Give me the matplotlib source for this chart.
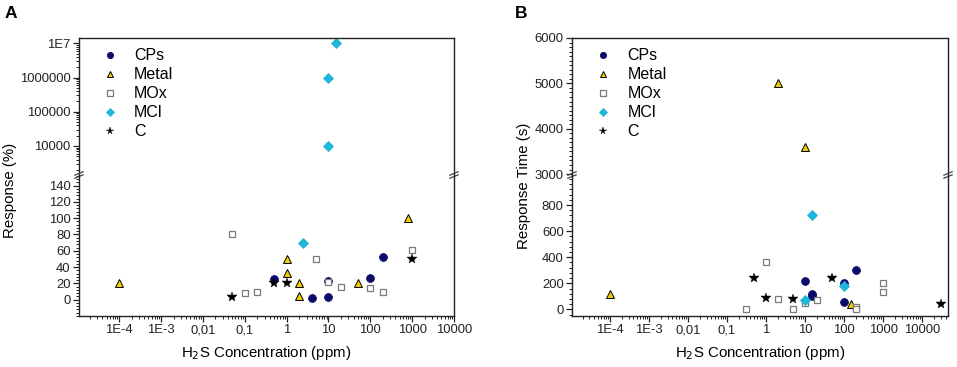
import numpy as np
import matplotlib
matplotlib.use("Agg")
import matplotlib.pyplot as plt
from matplotlib.ticker import FixedLocator, LogLocator, MultipleLocator, NullFormatter

plt.rcParams["font.family"] = ["Liberation Sans", "DejaVu Sans"]

# Panel A: response (%)
cps_a_x = [0.5, 4, 10, 10, 100, 200]
cps_a_y = [25, 2, 3, 23, 27, 52]
metal_a_x = [1e-4, 1, 1, 2, 2, 50, 800]
metal_a_y = [20, 50, 33, 20, 5, 20, 100]
mox_a_x = [0.05, 0.1, 0.2, 5, 10, 20, 100, 200, 1000]
mox_a_y = [80, 8, 10, 50, 22, 15, 14, 9, 61]
mcl_a_x = [2.5, 10, 10, 15]
mcl_a_y = [70, 1e4, 1e6, 1e7]
c_a_x = [0.05, 0.5, 1, 1000]
c_a_y = [3, 20, 20, 50]

# Panel B: response time (s)
cps_b_x = [10, 15, 15, 100, 100, 200]
cps_b_y = [220, 120, 100, 200, 60, 300]
metal_b_x = [1e-4, 2, 10, 150]
metal_b_y = [120, 5000, 3600, 45]
mox_b_x = [0.3, 1, 2, 5, 10, 20, 200, 200, 1000, 1000]
mox_b_y = [5, 360, 82, 5, 50, 70, 20, 5, 200, 135]
mcl_b_x = [10, 15, 100]
mcl_b_y = [70, 720, 180]
c_b_x = [0.5, 1, 5, 50, 30000]
c_b_y = [240, 90, 80, 240, 40]

x_ticks = [1e-4, 1e-3, 1e-2, 1e-1, 1, 10, 100, 1000, 10000]
x_labels = ["1E-4", "1E-3", "0,01", "0,1", "1", "10", "100", "1000", "10000"]
a_upper_ticks = [1e4, 1e5, 1e6, 1e7]
a_upper_labels = ["10000", "100000", "1000000", "1E7"]
a_lower_ticks = [0, 20, 40, 60, 80, 100, 120, 140]
b_upper_ticks = [3000, 4000, 5000, 6000]
b_lower_ticks = [0, 200, 400, 600, 800]

styles = {
    "CPs": dict(marker="o", mfc="#0b0b6b", mec="#0b0b6b", ms=5.6, mew=0.6),
    "Metal": dict(marker="^", mfc="#f2cd00", mec="black", ms=6.0, mew=0.7),
    "MOx": dict(marker="s", mfc="white", mec="#7a7a7a", ms=4.8, mew=0.9),
    "MCl": dict(marker="D", mfc="#1fb8dc", mec="#1fb8dc", ms=4.6, mew=0.6),
    "C": dict(marker="*", mfc="black", mec="black", ms=7.0, mew=0.3),
}

W, H = 957, 367
fig = plt.figure(figsize=(W / 100, H / 100), dpi=100)


def fx(px):
    return px / W


def fy(py):
    return 1 - py / H


def break_marks(ax, y):
    # two short slanted strokes across left and right spines
    kw = dict(transform=ax.transAxes, color="#444444", lw=0.9, clip_on=False)
    for xs in (0.0, 1.0):
        for off in (-0.011, 0.011):
            ax.plot([xs - 0.011, xs + 0.011], [y + off - 0.012, y + off + 0.012], **kw)


def panel(left, right, top, brk, bottom, series, upper_lim, lower_lim, xlim,
          upper_ticks, upper_labels, upper_minor, lower_ticks, lower_minor,
          ylabel, ylab_pos, letter, letter_pos):
    ax_u = fig.add_axes([fx(left), fy(brk), fx(right - left), fy(top) - fy(brk)])
    ax_l = fig.add_axes([fx(left), fy(bottom), fx(right - left), fy(brk) - fy(bottom)])
    thresh = upper_lim[0]
    for name, (xs, ys) in series.items():
        xs = np.array(xs)
        ys = np.array(ys)
        up = ys >= thresh
        st = styles[name]
        ax_u.plot(xs[up], ys[up], ls="none", label=name, **st)
        ax_l.plot(xs[~up], ys[~up], ls="none", **st)

    for ax in (ax_u, ax_l):
        ax.set_xscale("log")
        ax.set_xlim(xlim)
        for s in ax.spines.values():
            s.set_linewidth(1.0)
            s.set_color("#222222")
        ax.tick_params(which="both", direction="out", right=False, top=False,
                       labelsize=9.4, colors="#222222", pad=2)
        ax.tick_params(which="major", length=4, width=0.9)
        ax.tick_params(which="minor", length=2, width=0.7)

    ax_u.spines["bottom"].set_visible(False)
    ax_l.spines["top"].set_visible(False)
    ax_u.tick_params(axis="x", which="both", bottom=False, labelbottom=False)

    if upper_minor is None:
        ax_u.set_yscale("log")
        ax_u.yaxis.set_minor_locator(LogLocator(base=10, subs=np.arange(2, 10)))
        ax_u.yaxis.set_minor_formatter(NullFormatter())
    else:
        ax_u.yaxis.set_minor_locator(MultipleLocator(upper_minor))
    ax_u.yaxis.set_major_locator(FixedLocator(upper_ticks))
    ax_u.set_yticklabels(upper_labels)
    ax_u.set_ylim(upper_lim)

    ax_l.set_ylim(lower_lim)
    ax_l.yaxis.set_major_locator(FixedLocator(lower_ticks))
    ax_l.set_yticklabels([str(t) for t in lower_ticks])
    ax_l.yaxis.set_minor_locator(MultipleLocator(lower_minor))
    ax_l.xaxis.set_major_locator(FixedLocator(x_ticks))
    ax_l.set_xticklabels(x_labels)
    ax_l.xaxis.set_minor_locator(LogLocator(base=10, subs=np.arange(2, 10), numticks=20))
    ax_l.xaxis.set_minor_formatter(NullFormatter())

    break_marks(ax_l, 1.0)

    ax_u.legend(loc="upper left", bbox_to_anchor=(0.045, 0.97), frameon=False,
                fontsize=11.5, markerscale=0.8, handlelength=1.0,
                handletextpad=1.0, labelspacing=0.25, borderaxespad=0)

    fig.text(fx((left + right) / 2), fy(353), "H$_2$S Concentration (ppm)",
             ha="center", va="center", fontsize=10.8)
    fig.text(fx(ylab_pos[0]), fy(ylab_pos[1]), ylabel, rotation=90,
             ha="center", va="center", fontsize=10.8)
    fig.text(fx(letter_pos[0]), fy(letter_pos[1]), letter, ha="left", va="center",
             fontsize=12.5, fontweight="bold")


panel(79, 454, 38, 175, 316,
      {"CPs": (cps_a_x, cps_a_y), "Metal": (metal_a_x, metal_a_y),
       "MOx": (mox_a_x, mox_a_y), "MCl": (mcl_a_x, mcl_a_y), "C": (c_a_x, c_a_y)},
      (1420, 1.43e7), (-20, 153), (1.1e-5, 1e4),
      a_upper_ticks, a_upper_labels, None, a_lower_ticks, 4,
      "Response (%)", (10, 190), "A", (5, 14))

panel(572, 948, 38, 175, 316,
      {"CPs": (cps_b_x, cps_b_y), "Metal": (metal_b_x, metal_b_y),
       "MOx": (mox_b_x, mox_b_y), "MCl": (mcl_b_x, mcl_b_y), "C": (c_b_x, c_b_y)},
      (2980, 6000), (-50, 1030), (1.07e-5, 4.6e4),
      b_upper_ticks, [str(t) for t in b_upper_ticks], 100, b_lower_ticks, 40,
      "Response Time (s)", (524, 186), "B", (515, 14))

fig.savefig("out.png", dpi=100)
